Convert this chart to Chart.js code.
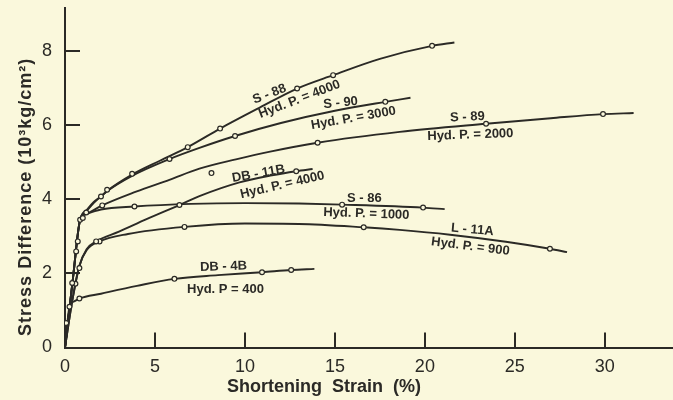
<!DOCTYPE html>
<html><head><meta charset="utf-8">
<script src="https://cdn.jsdelivr.net/npm/chart.js@4.4.1/dist/chart.umd.min.js"></script>
<style>html,body{margin:0;padding:0;background:#faf8dc;}#wrap{width:673px;height:400px;position:relative;}</style>
</head><body><div id="wrap"><canvas id="c"></canvas></div>
<script>
// ---- axis ticks and titles ----
const xTicks = [0, 5, 10, 15, 20, 25, 30];
const yTicks = [0, 2, 4, 6, 8];
const xTitle = 'Shortening  Strain  (%)';
const yTitle = 'Stress Difference (10³kg/cm²)';

// ---- curves (strain %, stress 10^3 kg/cm^2) ----
const s88Line = [[0,0],[0.45,1.9],[0.84,3.44],[1.2,3.7],[1.6,3.92],[2.0,4.07],[2.34,4.22],[3.73,4.66],[5.3,5.04],[6.82,5.4],[8.62,5.9],[10.8,6.46],[12.9,6.98],[14.9,7.34],[17.5,7.78],[20.4,8.13],[21.64,8.22]];
const s90Line = [[0,0],[0.45,1.9],[0.84,3.44],[1.2,3.68],[1.6,3.9],[2.3,4.2],[3.7,4.62],[5.81,5.08],[7.47,5.38],[9.45,5.7],[12,6.05],[15,6.38],[17.8,6.62],[19.2,6.73]];
const s89Line = [[0,0],[0.45,1.9],[0.84,3.44],[1.2,3.6],[2.07,3.83],[3.95,4.2],[5.8,4.52],[7.47,4.82],[9.5,5.07],[11.4,5.28],[14.04,5.52],[18.6,5.81],[23.4,6.03],[27,6.18],[29.9,6.29],[31.6,6.32]];
const s86Line = [[0,0],[0.45,1.9],[0.84,3.44],[1.2,3.6],[2,3.72],[3.86,3.8],[7,3.87],[10,3.89],[13,3.88],[15.4,3.85],[19.9,3.77],[21.1,3.73]];
const db11bLine = [[0,0],[0.4,1.25],[0.8,2.2],[1.2,2.65],[1.73,2.86],[3,3.12],[4.5,3.45],[6.36,3.84],[7.47,4.08],[9.7,4.45],[11.5,4.64],[12.85,4.75],[13.76,4.81]];
const l11aLine = [[0,0],[0.4,1.25],[0.8,2.2],[1.2,2.62],[1.92,2.86],[3.5,3.06],[6.64,3.25],[10,3.34],[13,3.33],[16.6,3.24],[18.6,3.17],[21.4,3.04],[24.5,2.85],[26.95,2.66],[27.9,2.57]];
const db4bLine = [[0,0],[0.25,1.1],[0.5,1.24],[0.8,1.32],[2,1.45],[4,1.66],[6.08,1.85],[8.5,1.95],[10.95,2.03],[12.57,2.09],[13.86,2.12]];

// ---- measured points (small circles) ----
const s88Pts = [[0.99,3.49],[2.0,4.07],[2.34,4.25],[3.73,4.68],[6.82,5.4],[8.62,5.9],[12.9,6.98],[14.9,7.34],[20.4,8.13]];
const s90Pts = [[0.62,2.59],[0.71,2.86],[5.81,5.08],[9.45,5.7],[17.8,6.62]];
const s89Pts = [[0.84,3.44],[2.07,3.83],[14.04,5.52],[23.4,6.03],[29.9,6.29]];
const s86Pts = [[0.4,1.74],[1.18,3.64],[3.86,3.8],[15.4,3.85],[19.9,3.77]];
const db11bPts = [[0.58,1.72],[1.73,2.86],[6.36,3.84],[8.14,4.7],[12.85,4.75]];
const l11aPts = [[0.8,2.14],[1.92,2.86],[6.64,3.25],[16.6,3.24],[26.95,2.66]];
const db4bPts = [[0.07,0.66],[0.25,1.1],[0.8,1.32],[6.08,1.85],[10.95,2.03],[12.57,2.09]];

// ---- curve labels ----
const labelTexts = ['S - 88','Hyd. P. = 4000','S - 90','Hyd. P. = 3000','S - 89','Hyd. P. = 2000','DB - 11B','Hyd. P. = 4000','S - 86','Hyd. P. = 1000','L - 11A','Hyd. P. = 900','DB - 4B','Hyd. P = 400'];
const labelAt = [[11.36,6.83],[13.03,6.69],[15.32,6.59],[16.03,6.18],[22.36,6.21],[22.53,5.73],[10.75,4.68],[12.08,4.38],[16.64,4.03],[16.75,3.6],[22.64,3.17],[22.53,2.72],[8.81,2.18],[8.92,1.56]];
const labelRot = [-21,-21,-6,-10,-3,-2,-10,-13,0,2,5,7,-2,0];

const BG = '#faf8dc', INK = '#2b2a26';
const toXY = a => a.map(([x,y]) => ({x, y}));
const lineDs = d => ({type:'scatter', data: toXY(d), showLine:true, pointRadius:0, borderColor:INK, borderWidth:1.9, cubicInterpolationMode:'monotone', order:2});
const ptDs = d => ({type:'scatter', data: toXY(d), showLine:false, pointRadius:2.4, pointBackgroundColor:BG, pointBorderColor:INK, pointBorderWidth:1.2, order:1});
const noPad = s => { s.paddingTop = 0; s.paddingBottom = 0; s.paddingLeft = 0; s.paddingRight = 0; };

const decor = {
  id:'decor',
  beforeDraw(ch){const c=ch.ctx;c.save();c.fillStyle=BG;c.fillRect(0,0,ch.width,ch.height);c.restore();},
  afterDraw(ch){
    const {ctx, scales:{x, y}} = ch;
    ctx.save();
    ctx.strokeStyle = INK; ctx.lineWidth = 2;
    // axis line continues to the page edge
    ctx.beginPath(); ctx.moveTo(x.right - 1, y.bottom + 0.5); ctx.lineTo(ch.width, y.bottom + 0.5); ctx.stroke();
    xTicks.forEach(v => { if (!v) return; const px = Math.round(x.getPixelForValue(v)); ctx.beginPath(); ctx.moveTo(px, y.bottom); ctx.lineTo(px, y.bottom - 15); ctx.stroke(); });
    yTicks.forEach(v => { if (!v) return; const py = Math.round(y.getPixelForValue(v)); ctx.beginPath(); ctx.moveTo(x.left, py); ctx.lineTo(x.left + 15, py); ctx.stroke(); });
    ctx.fillStyle = INK; ctx.textAlign = 'center'; ctx.textBaseline = 'middle';
    ctx.font = 'bold 18px "Liberation Sans"';
    ctx.fillText(xTitle, x.getPixelForValue(14.4), y.bottom + 40);
    ctx.save();
    ctx.translate(26, y.getPixelForValue(4.06)); ctx.rotate(-Math.PI/2);
    try { ctx.letterSpacing = '1px'; } catch(e) {}
    ctx.fillText(yTitle, 0, 0);
    ctx.restore();
    ctx.font = 'bold 13px "Liberation Sans"';
    labelTexts.forEach((t, i) => {
      ctx.save();
      ctx.translate(x.getPixelForValue(labelAt[i][0]), y.getPixelForValue(labelAt[i][1]));
      ctx.rotate(labelRot[i] * Math.PI / 180);
      ctx.fillText(t, 0, 0);
      ctx.restore();
    });
    ctx.restore();
  }
};

new Chart(document.getElementById('c'), {
  type: 'scatter',
  data: { datasets: [
    ptDs(s88Pts), ptDs(s90Pts), ptDs(s89Pts), ptDs(s86Pts), ptDs(db11bPts), ptDs(l11aPts), ptDs(db4bPts),
    lineDs(s88Line), lineDs(s90Line), lineDs(s89Line), lineDs(s86Line), lineDs(db11bLine), lineDs(l11aLine), lineDs(db4bLine)
  ]},
  options: {
    responsive: true, maintainAspectRatio: false, animation: false, devicePixelRatio: 1,
    layout: { padding: { top: 8, right: 0, bottom: 0, left: 0 } },
    plugins: { legend: { display: false }, tooltip: { enabled: false } },
    scales: {
      x: { type: 'linear', min: 0, max: 33.5,
        afterBuildTicks: s => { s.ticks = xTicks.map(v => ({value: v})); },
        afterFit: s => { s.height = 52.5; noPad(s); },
        ticks: { color: INK, font: { family: 'Liberation Sans', size: 18 }, padding: 1, maxRotation: 0, autoSkip: false },
        grid: { display: false }, border: { display: true, color: INK, width: 2 } },
      y: { type: 'linear', min: 0, max: 9.15,
        afterBuildTicks: s => { s.ticks = yTicks.map(v => ({value: v})); },
        afterFit: s => { s.width = 65; noPad(s); },
        ticks: { color: INK, font: { family: 'Liberation Sans', size: 18 }, padding: 5, autoSkip: false },
        grid: { display: false }, border: { display: true, color: INK, width: 2 } }
    }
  },
  plugins: [decor]
});
</script></body></html>
